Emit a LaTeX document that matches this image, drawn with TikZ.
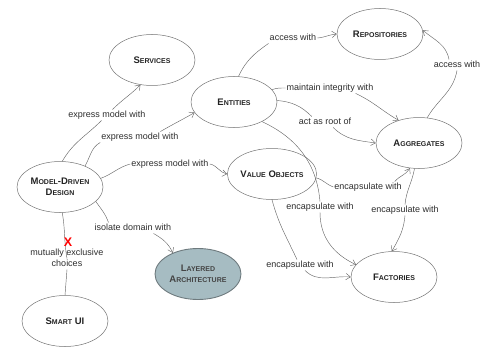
\documentclass[tikz,border=0pt]{standalone}
\usepackage{fontspec}
\setmainfont{Liberation Sans}
\usetikzlibrary{arrows.meta,shapes.geometric}

\definecolor{edgegray}{RGB}{105,105,105}
\definecolor{rimgray}{RGB}{115,115,115}
\definecolor{layerfill}{RGB}{166,188,194}
\definecolor{layerrim}{RGB}{110,122,126}
\definecolor{inkgray}{RGB}{35,35,35}
\definecolor{labelgray}{RGB}{45,45,45}

% fake small capitals: large initial, smaller remainder
\newcommand\capword[2]{{\fontsize{9.5}{11}\selectfont #1}{\fontsize{7}{9}\selectfont #2}}

\begin{document}
\begin{tikzpicture}[x=1pt,y=1pt,
  concept/.style={ellipse, draw=rimgray, line width=0.5pt, minimum width=86pt,
    minimum height=51pt, inner sep=0pt, align=center,
    font=\bfseries\fontsize{9.5}{11.5}\selectfont, text=inkgray},
  layer/.style={concept, fill=layerfill, draw=layerrim, line width=0.9pt,
    text=inkgray!85},
  rel/.style={inner sep=1pt, text height=6.5pt, text depth=2pt,
    font=\fontsize{9}{11}\selectfont, text=labelgray, align=center},
  plain/.style={draw=edgegray, line width=0.45pt},
  link/.style={plain, -{Straight Barb[length=4.5pt,width=6.5pt]}}
]
\useasboundingbox (0,0) rectangle (481,-350);

% concepts
\node[concept] (srv) at (152,-60)  {\capword{S}{ERVICES}};
\node[concept] (ent) at (234,-102) {\capword{E}{NTITIES}};
\node[concept] (rep) at (380,-34)  {\capword{R}{EPOSITORIES}};
\node[concept] (agg) at (419,-143) {\capword{A}{GGREGATES}};
\node[concept] (vo)  at (272,-174) {\capword{V}{ALUE} \capword{O}{BJECTS}};
\node[concept] (fac) at (394,-277) {\capword{F}{ACTORIES}};
\node[concept] (mdd) at (60,-187)  {\capword{M}{ODEL}-\capword{D}{RIVEN}\\\capword{D}{ESIGN}};
\node[layer]   (lay) at (198,-274) {\capword{L}{AYERED}\\\capword{A}{RCHITECTURE}};
\node[concept] (sui) at (65,-321)  {\capword{S}{MART} \capword{UI}{}};

% relation labels
\node[rel] (l1)  at (107,-115) {express model with};
\node[rel] (l2)  at (140,-137) {express model with};
\node[rel] (l3)  at (170,-164) {express model with};
\node[rel] (l4)  at (133,-228) {isolate domain with};
\node[rel] (l5)  at (67,-264)  {mutually exclusive\\choices};
\node[rel] (l6)  at (293,-38)  {access with};
\node[rel] (l7)  at (330,-88)  {maintain integrity with};
\node[rel] (l8)  at (325,-122) {act as root of};
\node[rel] (l9)  at (457,-65)  {access with};
\node[rel] (l10) at (368,-187) {encapsulate with};
\node[rel] (l11) at (320,-207) {encapsulate with};
\node[rel] (l12) at (405,-210) {encapsulate with};
\node[rel] (l13) at (300,-265) {encapsulate with};

% Model-Driven Design
\draw[plain] (mdd.85) to[out=60,in=225] (l1);
\draw[link]  (l1) to[out=45,in=225] (srv.-115);
\draw[plain] (mdd.40) to[out=60,in=210] (l2.south west);
\draw[link]  (l2.15) to[out=30,in=210] (ent.195);
\draw[plain] (mdd.12) to[out=20,in=195] (l3.west);
\draw[link]  (l3.east) to[out=-10,in=170] (vo.west);
\draw[plain] (mdd.-22) to[out=-55,in=110] ([xshift=15pt]l4.north west);
\draw[link]  ([xshift=-19pt]l4.south east) to[out=-30,in=115] (lay.140);
\draw[plain] (mdd.-85) to[out=-80,in=100] (l5.north);
\draw[plain] (l5.south) -- (sui.north);
\node[text=red, font=\bfseries\fontsize{12.5}{12.5}\selectfont, inner sep=0pt] (veto) at (68,-242) {X};

% Entities
\draw[plain] (ent.80) to[out=65,in=215] (l6.south west);
\draw[link]  (l6.east) to[out=5,in=185] (rep.west);
\draw[plain] (ent.18) to[out=20,in=180] (l7.west);
\draw[link]  (l7.-12) to[out=-25,in=150] (agg.132);
\draw[plain] (ent.2) to[out=-5,in=135] ([xshift=14pt]l8.north west);
\draw[link]  ([xshift=-19pt]l8.south east) to[out=-45,in=172] (agg.west);
\draw[plain] (ent.-35) to[out=-25,in=95] (l11.north);
\draw[link]  (l11.south) to[out=-90,in=155] (fac.162);

% Aggregates
\draw[plain] (agg.72) to[out=60,in=-100] (l9.south);
\draw[link]  ([xshift=-8pt]l9.north) to[out=100,in=-40] (rep.5);
\draw[plain] (agg.-100) to[out=-100,in=85] (l12.north);
\draw[link]  (l12.south) to[out=-95,in=60] (fac.95);

% Value Objects
\draw[plain] (vo.-5) to[out=-15,in=160] (l10.west);
\draw[link]  ([xshift=-8pt]l10.north east) to[out=50,in=-120] (agg.-110);
\draw[plain] (vo.-90) to[out=-75,in=115] ([xshift=-3pt]l13.north);
\draw[link]  ([xshift=5pt]l13.south) to[out=-45,in=175] (fac.west);
\end{tikzpicture}
\end{document}
